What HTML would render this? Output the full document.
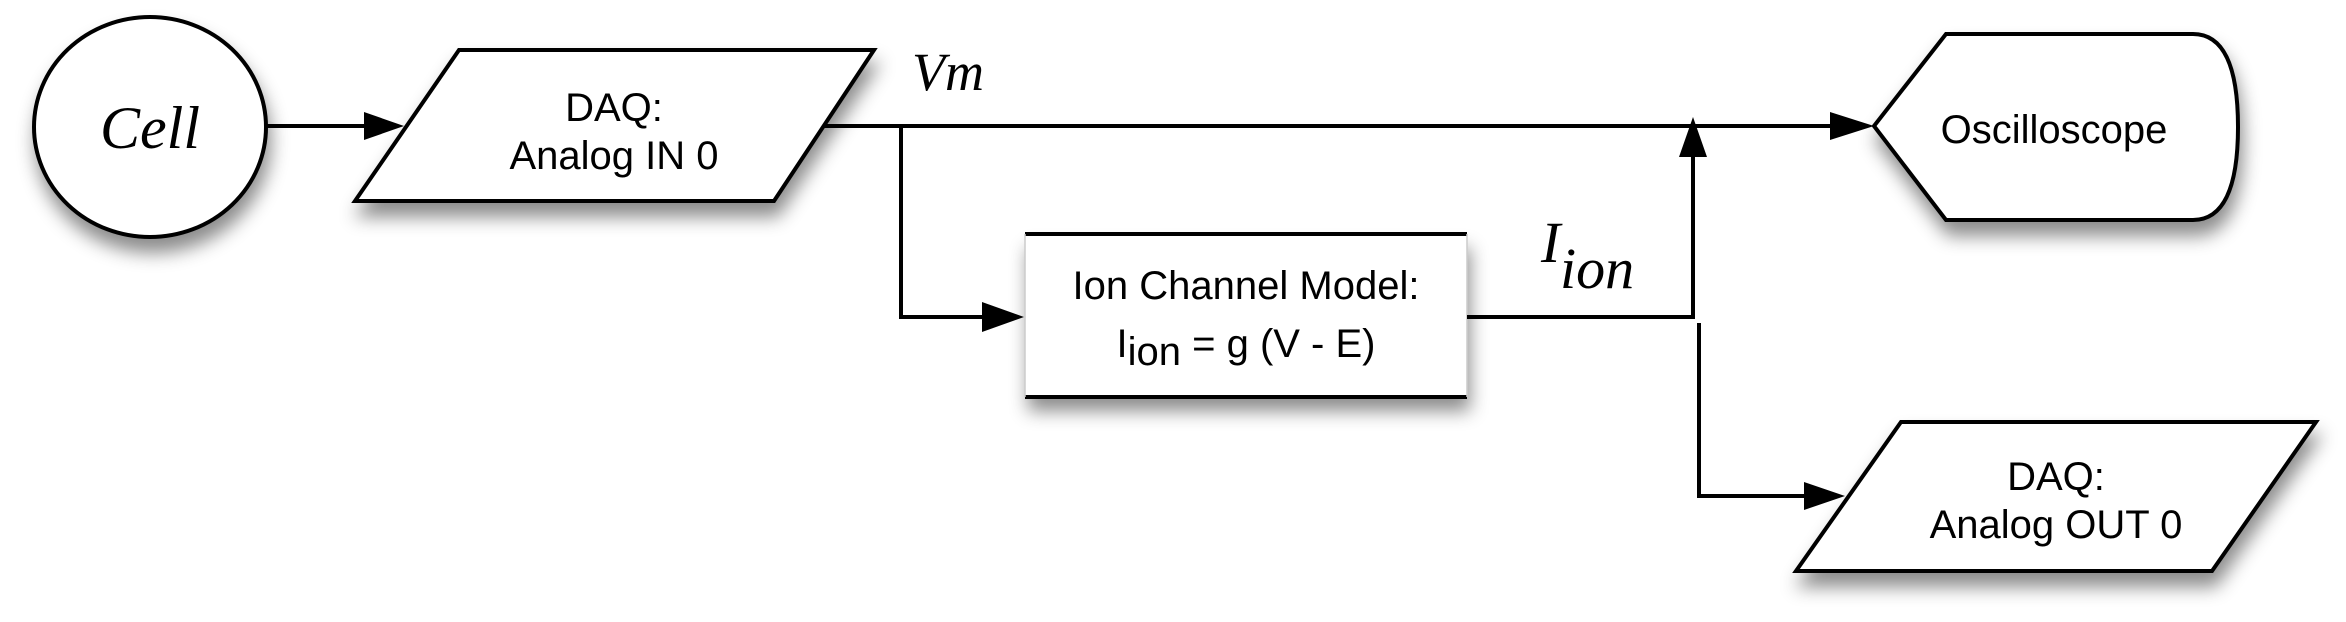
<!DOCTYPE html>
<html><head><meta charset="utf-8"><style>html,body{margin:0;padding:0;background:#fff;}svg{display:block}</style></head>
<body>
<svg width="2346" height="622" viewBox="0 0 2346 622" xmlns="http://www.w3.org/2000/svg">
<defs>
<filter id="sh" x="-20%" y="-20%" width="150%" height="160%">
<feDropShadow dx="3" dy="14" stdDeviation="9" flood-color="#000" flood-opacity="0.45"/>
</filter>
</defs>
<g stroke="#000" stroke-width="4" fill="#fff" filter="url(#sh)">
<ellipse cx="150" cy="127" rx="116" ry="110"/>
<polygon points="459,50 874,50 774,201 355,201"/>
<rect x="1025" y="234" width="442" height="163" stroke="none"/>
<path d="M1946,34 L2193,34 Q2238,34 2238,127 Q2238,220 2193,220 L1946,220 L1874,126 Z"/>
<polygon points="1901,422 2316,422 2212,571 1796,571"/>
</g>
<g stroke="#000" stroke-width="4" fill="none">
<line x1="1025" y1="234" x2="1467" y2="234"/>
<line x1="1025" y1="397" x2="1467" y2="397"/>
<line x1="1025" y1="234" x2="1025" y2="397" stroke="#ccc" stroke-width="1.5"/>
<line x1="1467" y1="234" x2="1467" y2="397" stroke="#ccc" stroke-width="1.5"/>
<line x1="266" y1="126" x2="370" y2="126"/>
<polyline points="824,126 1835,126"/>
<polyline points="901,126 901,317 990,317"/>
<polyline points="1467,317 1693,317 1693,150"/>
<polyline points="1699,323 1699,496 1810,496"/>
</g>
<g fill="#000">
<polygon points="404,126 364,112 364,140"/>
<polygon points="1874,126 1830,112 1830,140"/>
<polygon points="1024,317 982,302 982,332"/>
<polygon points="1693,117 1679,157 1707,157"/>
<polygon points="1845,496 1804,482 1804,510"/>
</g>
<g font-family="'Liberation Serif', serif" font-style="italic" fill="#000">
<text x="150" y="148" font-size="60" text-anchor="middle">Cell</text>
<text x="912" y="90" font-size="54">Vm</text>
<text x="1541" y="262" font-size="58">I</text>
<text x="1560" y="288" font-size="58">ion</text>
</g>
<g font-family="'Liberation Sans', sans-serif" font-size="40" fill="#000" text-anchor="middle">
<text x="614" y="121">DAQ:</text>
<text x="614" y="169">Analog IN 0</text>
<text x="1246" y="299">Ion Channel Model:</text>
<text x="1246" y="357"><tspan>I</tspan><tspan font-size="40" dy="8">ion</tspan><tspan dy="-8"> = g (V - E)</tspan></text>
<text x="2054" y="143">Oscilloscope</text>
<text x="2056" y="490">DAQ:</text>
<text x="2056" y="538">Analog OUT 0</text>
</g>
</svg>
</body></html>
